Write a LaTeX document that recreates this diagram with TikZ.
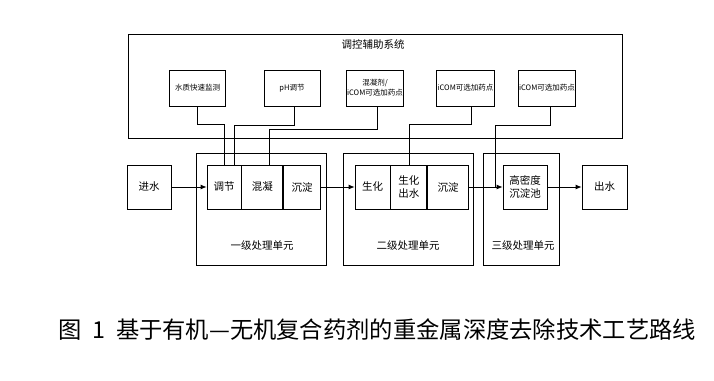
\documentclass[tikz,border=0pt]{standalone}
\usepackage{fontspec}
\setmainfont{Noto Sans CJK SC}
\usepackage{tikz}
\usetikzlibrary{arrows.meta,calc,positioning}

\begin{document}
\begin{tikzpicture}[x=1pt,y=-1pt,
  box/.style={draw,line width=0.8pt,minimum height=44pt,inner sep=1pt,align=center,font=\fontsize{10.5}{13}\selectfont},
  aux/.style={draw,line width=0.8pt,minimum width=56pt,minimum height=36pt,inner sep=1pt,align=center,font=\fontsize{7.5}{10}\selectfont},
  frame/.style={draw,line width=0.8pt},
  lbl/.style={font=\fontsize{10.5}{13}\selectfont},
  arr/.style={-{Latex[length=6pt,width=5pt]},line width=0.8pt},
  link/.style={line width=0.8pt}
]
\useasboundingbox (0,0) rectangle (714,380);
% auxiliary control system
\draw[frame] (128,34) rectangle (622,138);
\node[lbl] (ctrl) at (373,44) {调控辅助系统};
\node[aux] (mon) at (197.5,88) {水质快速监测};
\node[aux] (ph) at (292,88) {pH调节};
\node[aux] (coag) at (375,88) {混凝剂/\\iCOM可选加药点};
\node[aux] (icomA) at (465.5,88) {iCOM可选加药点};
\node[aux] (icomB) at (547,88) {iCOM可选加药点};
% treatment stages
\draw[frame] (196,153) rectangle (326,265);
\draw[frame] (343,153) rectangle (473,265);
\draw[frame] (483,153) rectangle (559,265);
\node[lbl] (lblA) at (262,246) {一级处理单元};
\node[lbl] (lblB) at (408,246) {二级处理单元};
\node[lbl] (lblC) at (523,246) {三级处理单元};
\node[box,minimum width=44pt] (inflow) at (149,187) {进水};
\node[box,minimum width=34pt] (adj) at (224,187) {调节};
\node[box,minimum width=41pt,right=0pt of adj] (coagu) {混凝};
\node[box,minimum width=37pt,right=0pt of coagu] (settleA) {沉淀};
\node[box,minimum width=35pt] (bio) at (372.5,187) {生化};
\node[box,minimum width=36pt,right=0pt of bio] (bioout) {生化\\出水};
\node[box,minimum width=41pt,right=0pt of bioout] (settleB) {沉淀};
\node[box,minimum width=44pt] (hds) at (525,187) {高密度\\沉淀池};
\node[box,minimum width=45pt] (outflow) at (604.5,187) {出水};
\coordinate (join) at ($(hds.west)+(-7,0)$);
% flow
\draw[arr] (inflow) -- (adj);
\draw[arr] (settleA) -- (bio);
\draw[arr] (settleB) -- (hds);
\draw[arr] (hds) -- (outflow);
% dosing links
\draw[link] (mon.south) |- ([yshift=40pt]adj.north) -- (adj.north);
\draw[link] ([xshift=2pt]ph.south) |- ([xshift=10pt,yshift=39pt]adj.north) -- ([xshift=10pt]adj.north);
\draw[link] ([xshift=2pt]coag.south) |- ([xshift=7.5pt,yshift=35pt]coagu.north) -- ([xshift=7.5pt]coagu.north);
\draw[link] ([xshift=5.5pt]icomA.south) |- ([xshift=1pt,yshift=40pt]bioout.north) -- ([xshift=1pt]bioout.north);
\draw[link] ([xshift=3pt]icomB.south) |- ([yshift=62pt]join) -- (join);
% caption
\node[font=\fontsize{23.3}{28}\selectfont] (cap) at (377.5,330) {图\hspace{0.45em}1\hspace{0.45em}基于有机—无机复合药剂的重金属深度去除技术工艺路线};
\end{tikzpicture}
\end{document}
